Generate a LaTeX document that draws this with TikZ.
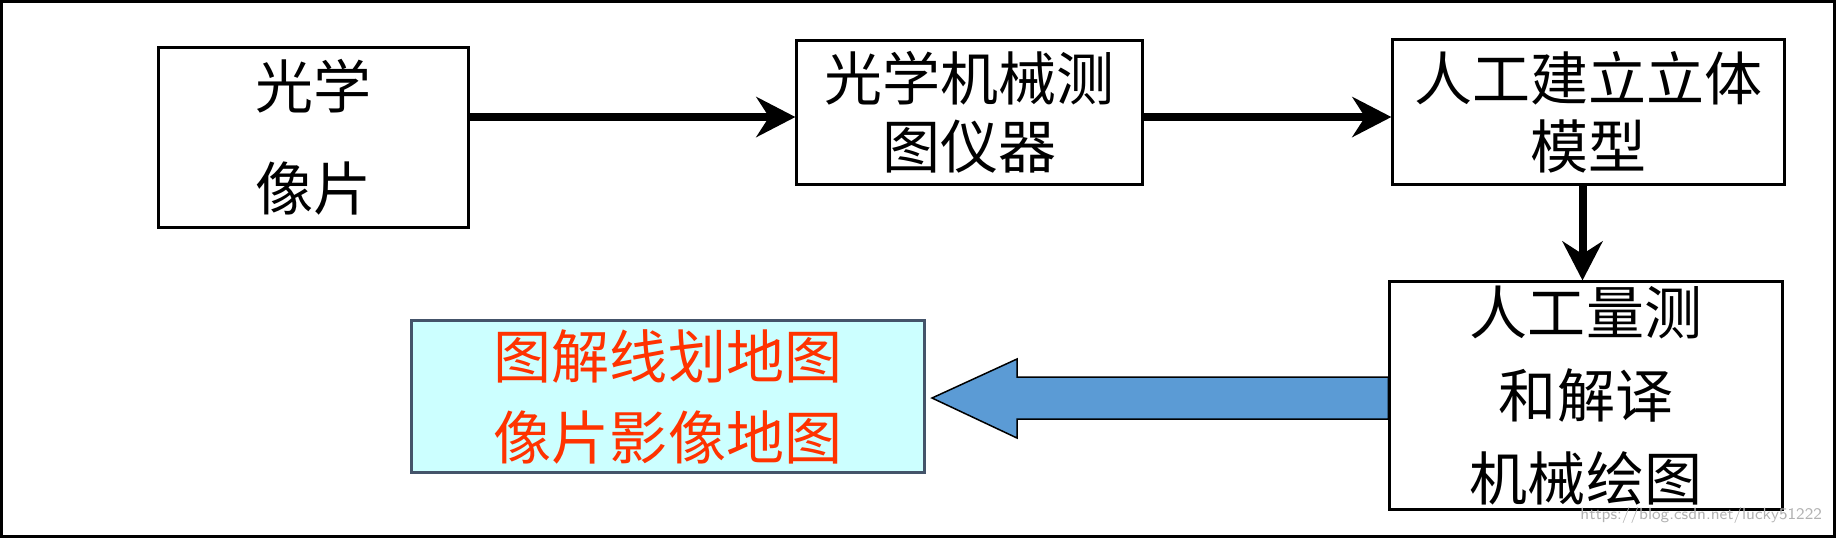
\documentclass[tikz,border=0pt]{standalone}
\usepackage{fontspec}
\newfontfamily\cjk{Noto Sans CJK SC}
\usetikzlibrary{arrows.meta}
\definecolor{mapcyan}{HTML}{CCFFFF}
\definecolor{mapslate}{HTML}{44546A}
\definecolor{mapred}{HTML}{FF3300}
\definecolor{flowblue}{HTML}{5B9BD5}

\begin{document}
\begin{tikzpicture}[x=0.01cm,y=-0.01cm,->,>={Stealth[length=0.39cm,width=0.4cm]},
				line width=0.08cm,font=\cjk\fontsize{16.5pt}{19.4pt}\selectfont]
				\tikzstyle{plain box}=[draw,line width=0.03cm,align=center,inner sep=0pt]
				\tikzstyle{map box}=[plain box,fill=mapcyan,draw=mapslate,text=mapred]
				\tikzstyle{big arrow}=[-,fill=flowblue,draw=black,line width=0.015cm]
				
				\useasboundingbox (0,0) rectangle (1836,538);
				\draw[-,line width=0.03cm] (1.5,1.5) rectangle (1834.5,536.5);
				
				\node[plain box,minimum width=3.09cm,minimum height=1.79cm] (P) at (313.5,137.5) {光学\\[9.6pt]像片};
				\node[plain box,minimum width=3.45cm,minimum height=1.43cm] (M) at (969.5,112.5) {光学机械测\\图仪器};
				\node[plain box,minimum width=3.91cm,minimum height=1.44cm] (S) at (1588.5,112) {人工建立立体\\模型};
				\node[plain box,minimum width=3.92cm,minimum height=2.27cm] (R) at (1586,395.5) {人工量测\\[4.2pt]和解译\\[4.2pt]机械绘图};
				\node[map box,minimum width=5.12cm,minimum height=1.51cm] (D) at (668,396.5) {图解线划地图\\[3.6pt]像片影像地图};
				
				\draw ([yshift=-0.045cm]P.east |- M.west) -- ([yshift=-0.045cm]M.west);
				\draw ([yshift=-0.045cm]M.east) -- ([yshift=-0.045cm]M.east -| S.west);
				\draw ([xshift=-0.06cm]S.south) -- ([xshift=-0.06cm]S.south |- R.north);
				
				% hollow arrow from R back to D
				\coordinate (tip) at (932,398);
				\filldraw[big arrow] (R.west |- 0,377) -- (1017,377) -- (1017,359) -- (tip)
					-- (1017,438) -- (1017,419) -- (R.west |- 0,419) -- cycle;
				
				\node[font=\fontsize{4.6pt}{5pt}\selectfont\sffamily,text=black!30,anchor=south east,inner sep=0pt] (mark) at (1826,528) {https://blog.csdn.net/lucky51222};
\end{tikzpicture}
\end{document}
